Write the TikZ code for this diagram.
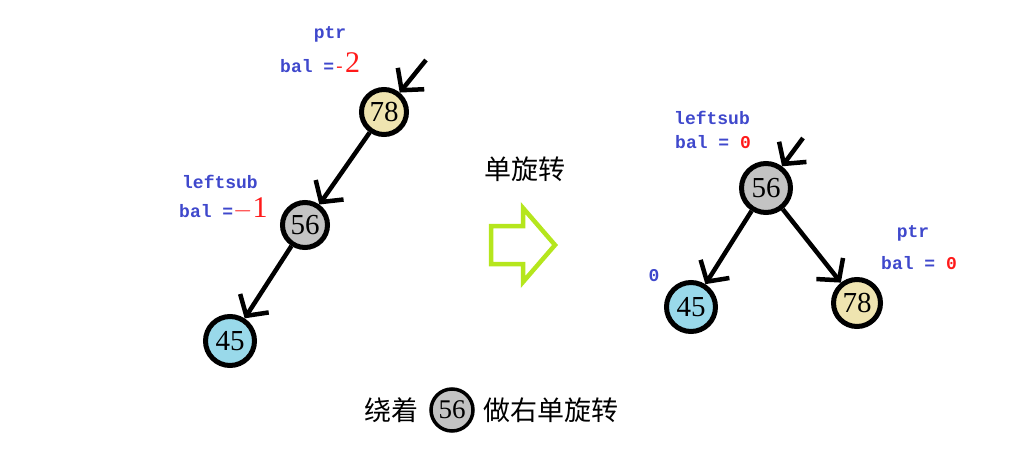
\documentclass[tikz,border=0pt]{standalone}
\usepackage{fontspec}
\setmainfont{Liberation Serif}
\newfontfamily\cjk{Noto Sans CJK SC}
\newfontfamily\lblfont{Liberation Mono}
\usetikzlibrary{arrows.meta}
\definecolor{beige}{HTML}{EFE4B0}
\definecolor{grayfill}{HTML}{C3C3C3}
\definecolor{bluefill}{HTML}{99D9EA}
\definecolor{lblue}{HTML}{3F48CC}
\definecolor{lred}{HTML}{FF1A1A}
\definecolor{lime}{HTML}{B5E61D}
\tikzset{
  num/.style={circle, draw=black, line width=5pt, minimum size=45pt, inner sep=0pt, font=\fontsize{29}{29}\selectfont},
  edge/.style={line width=4.5pt, -{Straight Barb[length=15pt, width=34pt, line width=4.5pt]}},
  lbl/.style={text=lblue, font=\lblfont\bfseries\fontsize{18}{18}\selectfont, inner sep=0pt},
  cjktext/.style={font=\cjk\fontsize{27}{27}\selectfont, inner sep=0pt}
}
\newcommand{\bignum}[1]{{\rmfamily\mdseries\fontsize{30}{30}\selectfont #1}}
\begin{document}
\begin{tikzpicture}[x=1pt,y=-1pt]
\useasboundingbox (0,0) rectangle (1030,457);
% left tree
\node[num, fill=beige] (a78) at (384,112) {78};
\node[num, fill=grayfill] (a56) at (305,225) {56};
\node[num, fill=bluefill, minimum size=49pt] (a45) at (230,341) {45};
\coordinate (ain) at (426,60);
\draw[edge] (ain) -- (a78);
\draw[edge] (a78) -- (a56);
\draw[edge] (a56) -- (a45);
\node[lbl] (tptr1) at (330,34) {ptr};
\node[lbl, anchor=base west] (tbal1) at (280,73) {bal =\textcolor{lred}{\mdseries -\bignum{2}}};
\node[lbl] (tls1) at (220,182) {leftsub};
\node[lbl, anchor=base west] (tbal2) at (179,218) {bal =\textcolor{lred}{\bignum{$-$1}}};
% middle
\node[cjktext] (t1) at (525,169) {单旋转};
\draw[lime, line width=4.5pt, line join=miter] (491,226) -- (523,226) -- (523,208) -- (555,245) -- (523,282) -- (523,264) -- (491,264) -- cycle;
% right tree
\node[num, fill=grayfill, minimum size=49pt] (b56) at (766,188) {56};
\node[num, fill=bluefill, minimum size=49pt] (b45) at (691,307) {45};
\node[num, fill=beige, minimum size=47pt] (b78) at (857,303) {78};
\coordinate (bin) at (803,138);
\draw[edge] (bin) -- (b56);
\draw[edge] (b56) -- (b45);
\draw[edge] (b56) -- (b78);
\node[lbl] (tls2) at (712,118) {leftsub};
\node[lbl, anchor=base west] (tbal3) at (675,149) {bal = \textcolor{lred}{0}};
\node[lbl] (tzero) at (654,276) {0};
\node[lbl] (tptr2) at (913,233) {ptr};
\node[lbl, anchor=base west] (tbal4) at (881,269) {bal = \textcolor{lred}{0}};
% bottom caption
\node[cjktext, anchor=east] (c1) at (419,410) {绕着};
\node[num, fill=grayfill, minimum size=42pt, line width=3.5pt, font=\fontsize{27}{27}\selectfont] (c56) at (452,410) {56};
\node[cjktext, anchor=west] (c2) at (483,410) {做右单旋转};
\end{tikzpicture}
\end{document}
